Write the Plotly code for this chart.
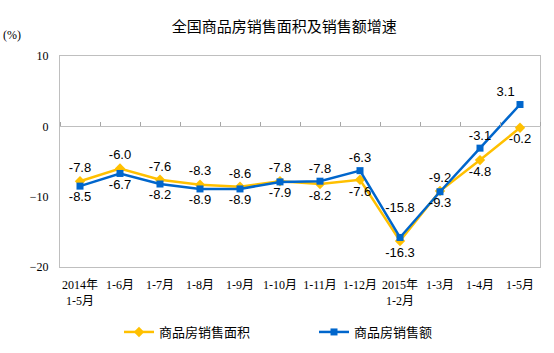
import plotly.graph_objects as go

categories = ["2014年<br>1-5月", "1-6月", "1-7月", "1-8月", "1-9月", "1-10月", "1-11月",
              "1-12月", "2015年<br>1-2月", "1-3月", "1-4月", "1-5月"]
area = [-7.8, -6.0, -7.6, -8.3, -8.6, -7.8, -8.2, -7.6, -16.3, -9.2, -4.8, -0.2]
amount = [-8.5, -6.7, -8.2, -8.9, -8.9, -7.9, -7.8, -6.3, -15.8, -9.3, -3.1, 3.1]
area_name = "商品房销售面积"
amount_name = "商品房销售额"
title = "全国商品房销售面积及销售额增速"

area_pos = ["top center"] * 6 + ["bottom center"] * 3 + ["top center", "bottom center", "bottom center"]
amount_pos = ["bottom center"] * 6 + ["top center"] * 3 + ["bottom center", "top center", "top left"]

YELLOW = "#FFC000"
BLUE = "#0066CC"
GREY = "#BFBFBF"
lab_font = dict(family="Liberation Sans, Arial", size=13, color="black")

amount_text = [f"{v:.1f}" for v in amount]
amount_text[8] = amount_text[8] + "<br> "   # lift this label clear of the lines

fig = go.Figure()
fig.add_trace(go.Scatter(
    x=categories, y=area, name=area_name, mode="lines+markers+text",
    line=dict(color=YELLOW, width=2.5),
    marker=dict(symbol="diamond", size=8, color=YELLOW),
    text=[f"{v:.1f}" for v in area], textposition=area_pos, textfont=lab_font,
    cliponaxis=False,
))
fig.add_trace(go.Scatter(
    x=categories, y=amount, name=amount_name, mode="lines+markers+text",
    line=dict(color=BLUE, width=2.5),
    marker=dict(symbol="square", size=7, color=BLUE),
    text=amount_text, textposition=amount_pos, textfont=lab_font,
    cliponaxis=False,
))
# invisible helper trace for the tick marks along the zero line
fig.add_trace(go.Scatter(
    x=categories, y=area, xaxis="x2", yaxis="y", mode="markers", marker=dict(size=1, opacity=0),
    showlegend=False, hoverinfo="skip",
))

fig.update_layout(
    width=554, height=353,
    margin=dict(l=60, r=14, t=56, b=86, autoexpand=False),
    paper_bgcolor="white", plot_bgcolor="white",
    font=dict(family="Liberation Serif, Noto Sans CJK SC", size=12, color="black"),
    title=dict(text=title, x=0.513, xanchor="center", y=0.925, yanchor="middle",
               font=dict(family="Noto Sans CJK SC", size=15, color="black")),
    xaxis=dict(type="category", showline=True, mirror=True, linecolor=GREY, linewidth=1,
               showgrid=False, ticks="", automargin=False, ticklabelstandoff=7,
               tickfont=dict(family="Liberation Serif, Noto Sans CJK SC", size=12),
               range=[-0.5, 11.5]),
    xaxis2=dict(type="category", overlaying="x", anchor="free", position=2/3, side="top",
                ticks="outside", ticklen=4, tickcolor="#A6A6A6", tickwidth=1, tickson="boundaries",
                showticklabels=False, showline=False, showgrid=False, automargin=False,
                range=[-0.5, 11.5]),
    yaxis=dict(range=[-20, 10], dtick=10, showline=True, mirror=True, linecolor=GREY, linewidth=1,
               showgrid=False, zeroline=True, zerolinecolor=GREY, zerolinewidth=1, automargin=False,
               ticklabelstandoff=8,
               tickfont=dict(family="Liberation Serif", size=12), ticks=""),
    legend=dict(orientation="h", xref="container", yref="container",
                x=119/554, xanchor="left", y=1 - 332/353, yanchor="middle",
                font=dict(family="Noto Sans CJK SC", size=13), itemwidth=30,
                entrywidthmode="pixels", entrywidth=150, tracegroupgap=0),
    showlegend=True,
    annotations=[dict(text="(%)", xref="paper", yref="paper", x=-0.1, y=1.1,
                      xanchor="center", yanchor="middle", showarrow=False,
                      font=dict(family="Liberation Serif", size=12))],
)
fig.write_html("out.html")
